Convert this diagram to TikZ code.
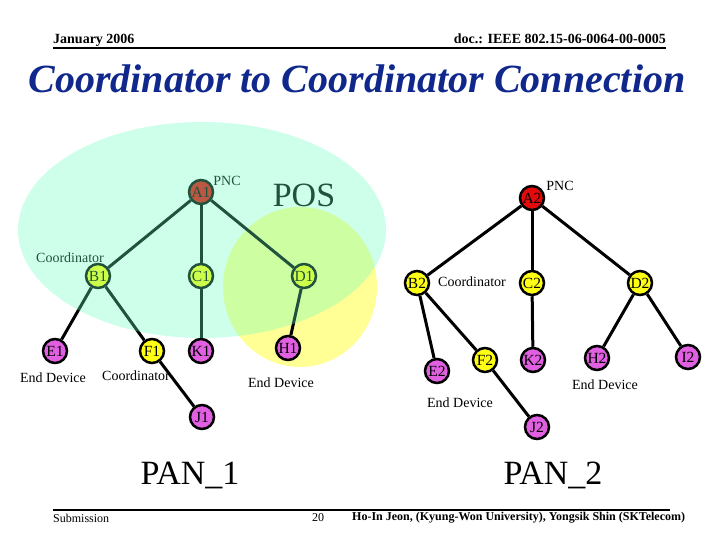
\documentclass[tikz,border=0pt]{standalone}
\usepackage{fontspec}
\setmainfont{Liberation Serif}
\begin{document}
\begin{tikzpicture}[x=1pt,y=-1pt]
\definecolor{nred}{RGB}{228,10,10}
\definecolor{nyel}{RGB}{255,255,20}
\definecolor{nmag}{RGB}{225,95,225}
\definecolor{pyel}{RGB}{255,255,150}
\definecolor{pcyan}{RGB}{100,255,190}
\definecolor{tblue}{RGB}{16,40,140}
\tikzset{
  nd/.style={circle, draw=black, line width=2.5pt, minimum size=24pt, inner sep=0pt, font=\fontsize{15.5}{15.5}\selectfont},
  rd/.style={nd, fill=nred},
  yl/.style={nd, fill=nyel},
  mg/.style={nd, fill=nmag},
  edge/.style={line width=3pt, draw=black},
  lbl/.style={font=\fontsize{14}{16}\selectfont, inner sep=0pt},
  big/.style={font=\fontsize{34}{36}\selectfont, inner sep=0pt},
  rule/.style={line width=2.5pt}
}
\useasboundingbox (0,0) rectangle (720,540);
% header
\node[anchor=base west, inner sep=0pt, font=\fontsize{14}{16}\selectfont\bfseries] (hdl) at (53,44) {January 2006};
\node[anchor=base east, inner sep=0pt, font=\fontsize{14}{16}\selectfont\bfseries] (hdr) at (666,44) {doc.: IEEE 802.15-06-0064-00-0005};
\coordinate (hl1) at (53,48);
\coordinate (hl2) at (666,48);
\draw[rule] (hl1) -- (hl2);
\node[inner sep=0pt, text=tblue, font=\fontsize{40}{44}\selectfont\bfseries\itshape] (title) at (357,79) {Coordinator to Coordinator Connection};
% yellow circle (below)
\fill[pyel] (300,287) ellipse [x radius=77, y radius=80];
% PAN 1 nodes
\node[rd] (A1) at (201,192) {A1};
\node[yl] (B1) at (98,276) {B1};
\node[yl] (C1) at (201,276) {C1};
\node[yl] (D1) at (304,276) {D1};
\node[mg] (E1) at (55,351) {E1};
\node[yl] (F1) at (152,351) {F1};
\node[mg] (K1) at (201,351) {K1};
\node[mg] (H1) at (288,348) {H1};
\node[mg] (J1) at (202,417) {J1};
% PAN 2 nodes
\node[rd] (A2) at (532,198) {A2};
\node[yl] (B2) at (417,283) {B2};
\node[yl] (C2) at (532,283) {C2};
\node[yl] (D2) at (640,283) {D2};
\node[mg] (E2) at (437,371) {E2};
\node[yl] (F2) at (485,360) {F2};
\node[mg] (K2) at (533,360) {K2};
\node[mg] (H2) at (597,358) {H2};
\node[mg] (I2) at (688,357) {I2};
\node[mg] (J2) at (537,427) {J2};
% edges
\foreach \a/\b in {A1/B1,A1/C1,A1/D1,B1/E1,B1/F1,C1/K1,D1/H1,F1/J1,A2/B2,A2/C2,A2/D2,B2/E2,B2/F2,C2/K2,D2/H2,D2/I2,F2/J2}
  \draw[edge] (\a) -- (\b);
% labels
\node[lbl] (pnc1) at (227,181) {PNC};
\node[big] (pos) at (304,195) {POS};
\node[lbl] (co1) at (70,258) {Coordinator};
\node[lbl] (ed1) at (53,378) {End Device};
\node[lbl] (co2) at (136,376) {Coordinator};
\node[lbl] (ed2) at (281,383) {End Device};
\node[lbl] (pnc2) at (560,186) {PNC};
\node[lbl] (co3) at (472,282) {Coordinator};
\node[lbl] (ed3) at (460,403) {End Device};
\node[lbl] (ed4) at (605,385) {End Device};
\node[big] (pan1) at (190,475) {PAN\_1};
\node[big] (pan2) at (553,475) {PAN\_2};
% cyan overlay
\fill[pcyan, fill opacity=0.32] (202,230) ellipse [x radius=184, y radius=108];
% footer
\coordinate (fl1) at (53,510);
\coordinate (fl2) at (670,510);
\draw[rule] (fl1) -- (fl2);
\node[anchor=west, inner sep=0pt, font=\fontsize{12}{14}\selectfont] (sub) at (53,518) {Submission};
\node[inner sep=0pt, font=\fontsize{12}{14}\selectfont] (pg) at (318,518) {20};
\node[anchor=west, inner sep=0pt, font=\fontsize{12}{14}\selectfont\bfseries] (auth) at (352,518) {Ho-In Jeon, (Kyung-Won University), Yongsik Shin (SKTelecom)};
\end{tikzpicture}
\end{document}
